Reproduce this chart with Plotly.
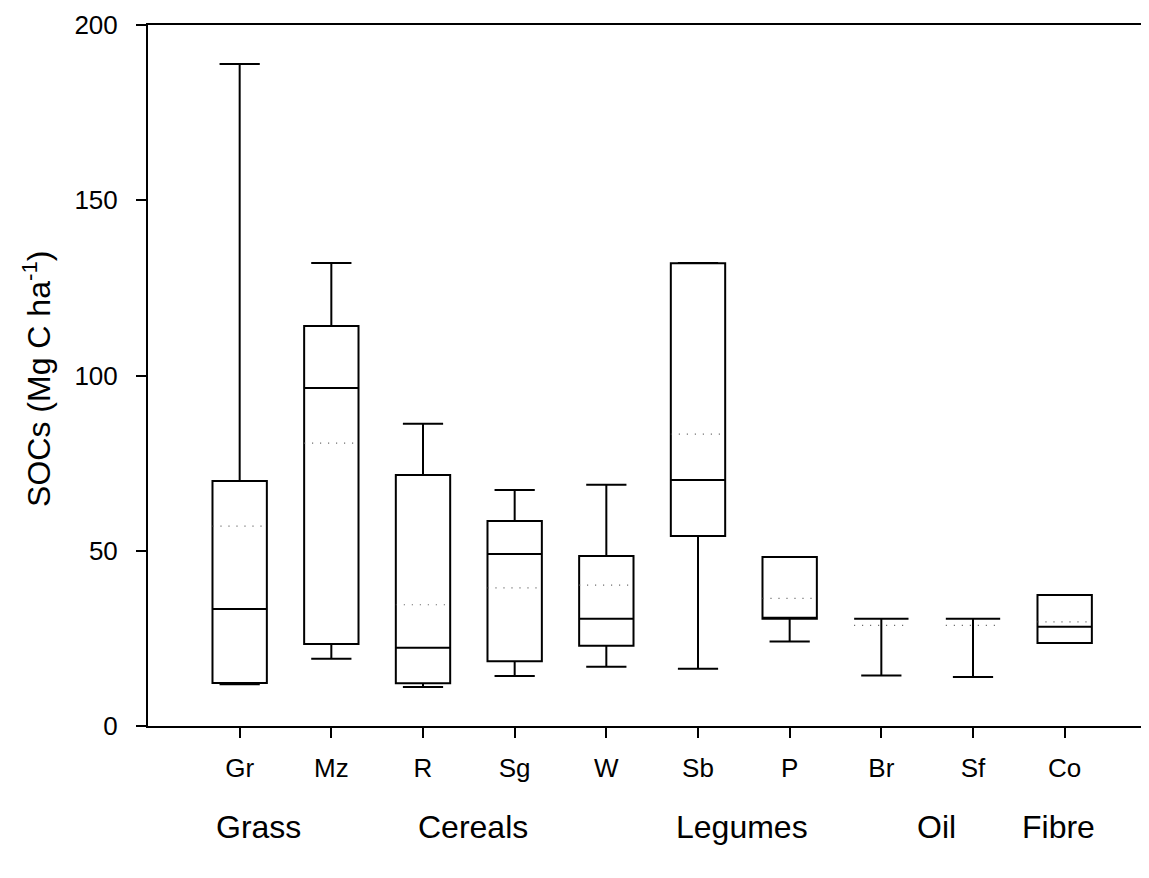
import plotly.graph_objects as go

# ---- data ----
crops = ["Gr", "Mz", "R", "Sg", "W", "Sb", "P", "Br", "Sf", "Co"]
lower_whisker = [11.9, 19.2, 11.1, 14.3, 16.9, 16.3, 24.1, 14.4, 14.0, 23.7]
q1_vals = [12.3, 23.4, 12.2, 18.5, 22.9, 54.2, 30.6, 30.6, 30.6, 23.7]
median_vals = [33.4, 96.4, 22.3, 49.1, 30.6, 70.2, 30.6, 30.6, 30.6, 28.3]
q3_vals = [69.9, 114.1, 71.6, 58.5, 48.5, 132.0, 48.2, 30.6, 30.6, 37.4]
upper_whisker = [188.9, 132.1, 86.2, 67.3, 68.8, 132.1, 48.2, 30.6, 30.6, 37.4]
mean_vals = [57.0, 80.7, 34.6, 39.4, 40.2, 83.3, 36.4, 28.7, 28.7, 29.7]

groups = ["Grass", "Cereals", "Legumes", "Oil", "Fibre"]
group_pos = [0.2, 2.55, 5.48, 7.6, 8.93]

y_ticks = [0, 50, 100, 150, 200]
y_title = "SOCs (Mg C ha<sup>-1</sup>)"

BOX_W = 0.593
FONT = "Liberation Sans, Arial, sans-serif"

positions = list(range(len(crops)))

fig = go.Figure()
fig.add_trace(go.Box(
    x=positions,
    q1=q1_vals, median=median_vals, q3=q3_vals,
    lowerfence=lower_whisker, upperfence=upper_whisker,
    width=BOX_W, whiskerwidth=0.74,
    line=dict(color="black", width=2),
    fillcolor="white",
    boxpoints=False,
    hoverinfo="skip",
    showlegend=False,
))

# mean lines (dotted) across each box
mx, my = [], []
for i, m in zip(positions, mean_vals):
    mx += [i - BOX_W / 2, i + BOX_W / 2, None]
    my += [m, m, None]
fig.add_trace(go.Scatter(
    x=mx, y=my, mode="lines",
    line=dict(color="#555555", width=1.2, dash="1px,7px"),
    hoverinfo="skip", showlegend=False,
))

for g, p in zip(groups, group_pos):
    fig.add_annotation(
        x=p, xref="x", y=-0.144, yref="paper",
        text=g, showarrow=False, xanchor="center", yanchor="middle",
        font=dict(family=FONT, size=32, color="black"),
    )

fig.add_annotation(
    x=-0.111, xref="paper", y=0.495, yref="paper",
    text=y_title, textangle=-90, showarrow=False,
    xanchor="center", yanchor="middle",
    font=dict(family=FONT, size=32, color="black"),
)

fig.update_layout(
    width=1141, height=870,
    margin=dict(l=140, r=0, t=17, b=152),
    paper_bgcolor="white", plot_bgcolor="white",
    font=dict(family=FONT, color="black"),
    showlegend=False,
)
fig.update_xaxes(
    range=[-1.0, 9.92],
    tickmode="array", tickvals=positions, ticktext=crops,
    showgrid=False, zeroline=False,
    showline=True, linecolor="black", linewidth=2, mirror=True,
    ticks="outside", ticklen=10, tickwidth=2, tickcolor="black",
    tickfont=dict(family=FONT, size=26, color="black"),
    ticklabelstandoff=8,
)
fig.update_yaxes(
    range=[0, 200],
    tickmode="array", tickvals=y_ticks,
    showgrid=False, zeroline=False,
    showline=True, linecolor="black", linewidth=2, mirror=False,
    ticks="outside", ticklen=10, tickwidth=2, tickcolor="black",
    tickfont=dict(family=FONT, size=26, color="black"),
    ticklabelstandoff=13,
)

fig.write_html("out.html")
